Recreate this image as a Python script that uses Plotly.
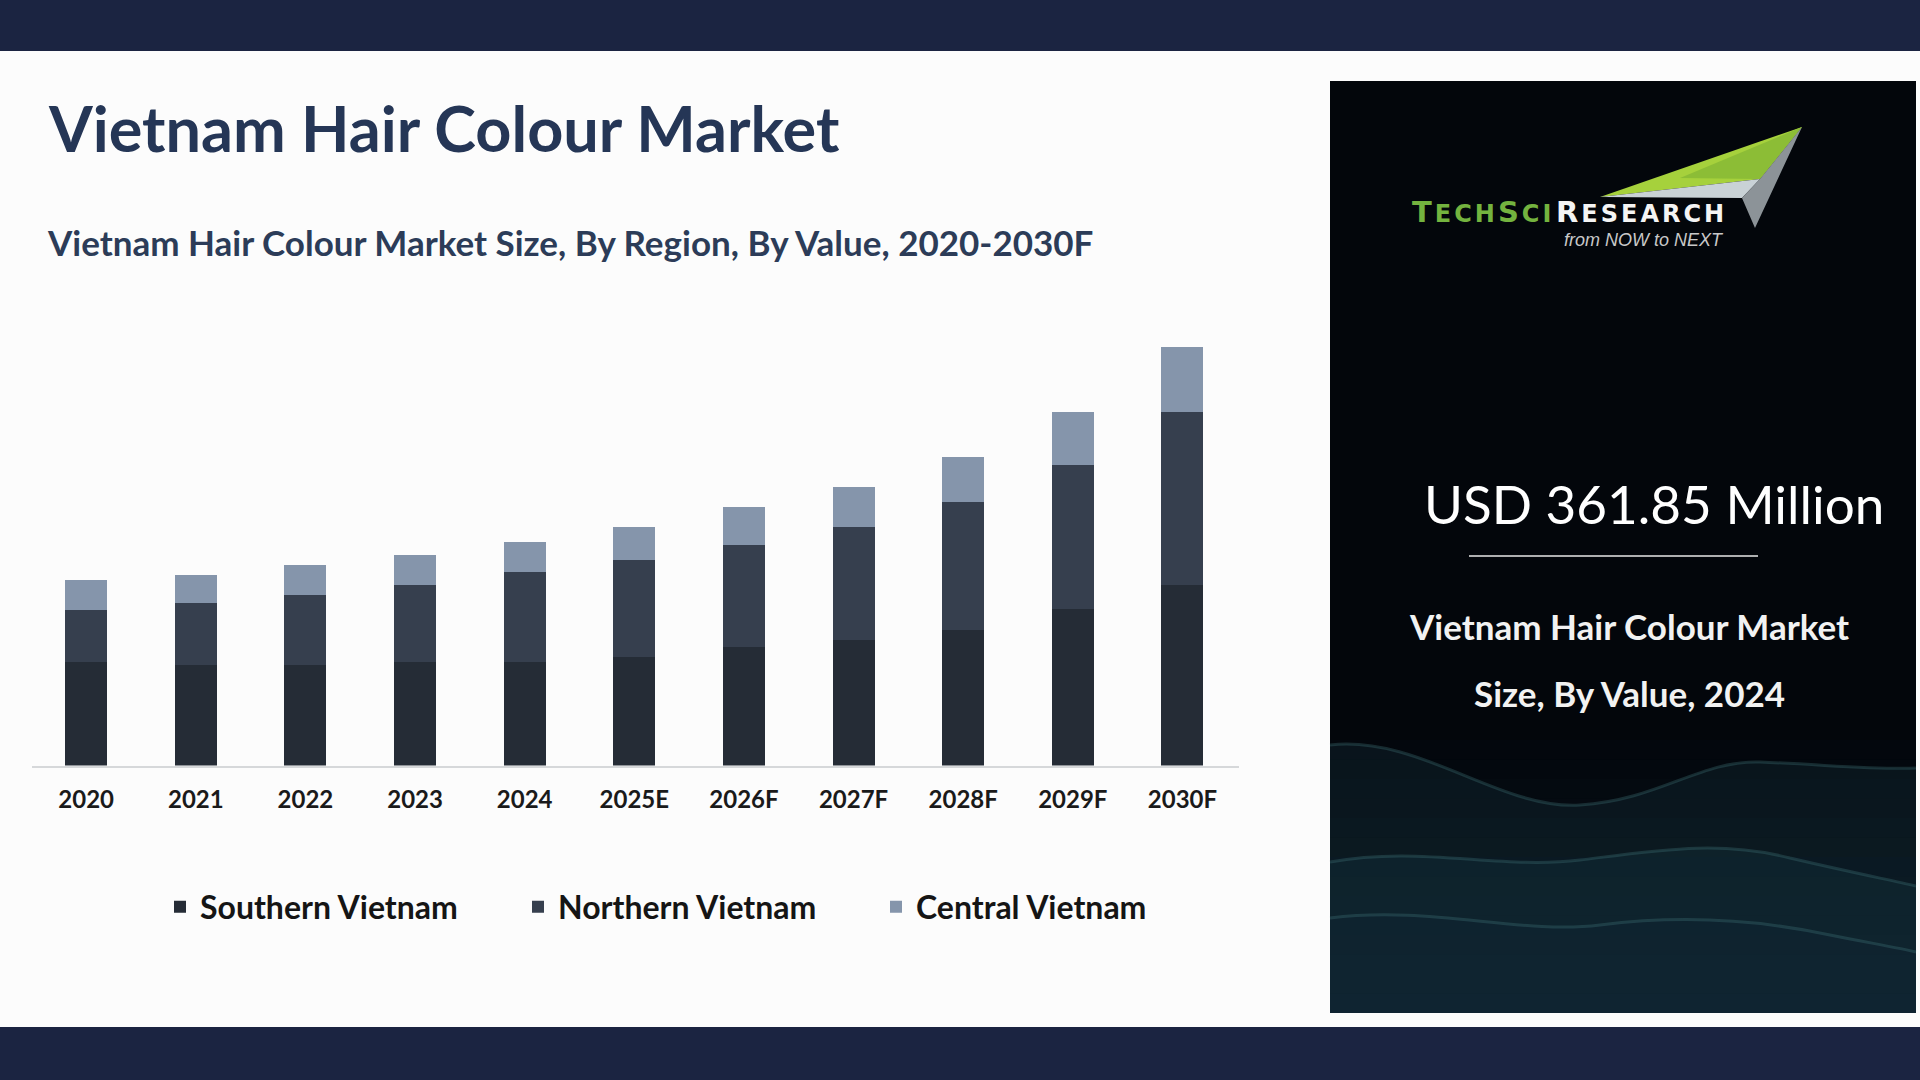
import plotly.graph_objects as go

# ---------------- data ----------------
years = ["2020", "2021", "2022", "2023", "2024", "2025E", "2026F", "2027F", "2028F", "2029F", "2030F"]
southern = [167.5, 163.1, 163.1, 167.5, 167.5, 175.6, 191.8, 203.6, 219.8, 253.3, 292.7]
northern = [84.7, 100.9, 113.4, 125.2, 145.8, 157.6, 165.7, 182.5, 206.8, 234.2, 279.7]
central = [48.6, 44.9, 48.6, 48.6, 48.6, 53.0, 61.1, 64.8, 73.4, 84.9, 105.8]
series_names = ["Southern Vietnam", "Northern Vietnam", "Central Vietnam"]
series_colors = ["#252c36", "#363f4e", "#8595ab"]

title_text = "Vietnam Hair Colour Market"
subtitle_text = "Vietnam Hair Colour Market Size, By Region, By Value, 2020-2030F"
kpi_text = "USD 361.85 Million"
kpi_label_1 = "Vietnam Hair Colour Market"
kpi_label_2 = "Size, By Value, 2024"

# ---------------- helpers (pixel -> paper) ----------------
W, H = 1920, 1080


def px(x):
    return x / W


def py(y):
    return 1 - y / H


def poly(points):
    return "M " + " L ".join(f"{px(x):.5f},{py(y):.5f}" for x, y in points) + " Z"


def curve(start, segs, close_bottom=None):
    s = f"M {px(start[0]):.5f},{py(start[1]):.5f}"
    for (c1, c2, e) in segs:
        s += (f" C {px(c1[0]):.5f},{py(c1[1]):.5f} {px(c2[0]):.5f},{py(c2[1]):.5f}"
              f" {px(e[0]):.5f},{py(e[1]):.5f}")
    if close_bottom is not None:
        for p in close_bottom:
            s += f" L {px(p[0]):.5f},{py(p[1]):.5f}"
        s += " Z"
    return s


fig = go.Figure()
for name, vals, col in zip(series_names, [southern, northern, central], series_colors):
    fig.add_trace(go.Bar(x=years, y=vals, name=name, marker_color=col,
                         marker_line_width=0, hoverinfo="x+y+name"))

shapes = []
# top & bottom bands
shapes.append(dict(type="rect", xref="paper", yref="paper", x0=0, x1=1, y0=py(51), y1=1,
                   fillcolor="#1b2441", line_width=0, layer="below"))
shapes.append(dict(type="rect", xref="paper", yref="paper", x0=0, x1=1, y0=0, y1=py(1027),
                   fillcolor="#1b2441", line_width=0, layer="below"))
# right panel
P_L, P_R, P_T, P_B = 1330, 1916, 81, 1013
shapes.append(dict(type="rect", xref="paper", yref="paper", x0=px(P_L), x1=px(P_R),
                   y0=py(P_B), y1=py(P_T), fillcolor="#03060b", line_width=0, layer="below"))
# subtle gradient towards the bottom of the panel
n_strips = 14
g_top = 740
for i in range(n_strips):
    y0 = g_top + i * (P_B - g_top) / n_strips
    y1 = g_top + (i + 1) * (P_B - g_top) / n_strips
    shapes.append(dict(type="rect", xref="paper", yref="paper", x0=px(P_L), x1=px(P_R),
                       y0=py(y1), y1=py(y0), fillcolor="#0c1d2b",
                       opacity=0.06 + 0.05 * i, line_width=0, layer="below"))
# waves
bottom = [(P_R, P_B), (P_L, P_B)]
wave_defs = [
    ((P_L, 745), [((1420, 735), (1500, 810), (1580, 805)),
                  ((1660, 800), (1700, 760), (1760, 762)),
                  ((1830, 765), (1880, 770), (P_R, 768))], "rgba(22,52,62,0.30)"),
    ((P_L, 862), [((1420, 845), (1500, 870), (1580, 860)),
                  ((1660, 850), (1720, 840), (1790, 858)),
                  ((1850, 872), (1890, 880), (P_R, 886))], "rgba(24,56,66,0.30)"),
    ((P_L, 918), [((1430, 905), (1520, 935), (1600, 925)),
                  ((1680, 915), (1760, 920), (1830, 935)),
                  ((1870, 943), (1900, 948), (P_R, 952))], "rgba(14,34,50,0.40)"),
]
for start, segs, col in wave_defs:
    shapes.append(dict(type="path", xref="paper", yref="paper",
                       path=curve(start, segs, bottom), fillcolor=col, line_width=0, layer="below"))
    shapes.append(dict(type="path", xref="paper", yref="paper",
                       path=curve(start, segs), line=dict(color="rgba(70,125,130,0.30)", width=3),
                       layer="below"))
# white separator line in panel
shapes.append(dict(type="line", xref="paper", yref="paper", x0=px(1469), x1=px(1758),
                   y0=py(556), y1=py(556), line=dict(color="#e8e8e8", width=1.5)))
# logo arrow
shapes.append(dict(type="path", xref="paper", yref="paper",
                   path=poly([(1600, 197), (1802, 127), (1760, 179)]),
                   fillcolor="#a6d13c", line_width=0))
shapes.append(dict(type="path", xref="paper", yref="paper",
                   path=poly([(1680, 178), (1802, 127), (1760, 179)]),
                   fillcolor="#8cbd36", line_width=0))
shapes.append(dict(type="path", xref="paper", yref="paper",
                   path=poly([(1600, 197), (1760, 179), (1742, 198)]),
                   fillcolor="#c9d2d6", line_width=0))
shapes.append(dict(type="path", xref="paper", yref="paper",
                   path=poly([(1760, 179), (1802, 127), (1755, 228), (1742, 198)]),
                   fillcolor="#8c9398", line_width=0))

annotations = []
annotations.append(dict(text=f"<b>{title_text}</b>", xref="paper", yref="paper",
                        x=px(46), y=py(128), xanchor="left", yanchor="middle", showarrow=False,
                        font=dict(family="Lato", size=63, color="#253656")))
annotations.append(dict(text=f"<b>{subtitle_text}</b>", xref="paper", yref="paper",
                        x=px(45), y=py(242), xanchor="left", yanchor="middle", showarrow=False,
                        font=dict(family="Lato", size=35, color="#2c3c58")))
annotations.append(dict(text=kpi_text, xref="paper", yref="paper",
                        x=px(1654), y=py(503), xanchor="center", yanchor="middle", showarrow=False,
                        font=dict(family="Lato", size=53, color="#ffffff")))
annotations.append(dict(text=f"<b>{kpi_label_1}</b>", xref="paper", yref="paper",
                        x=px(1629), y=py(626), xanchor="center", yanchor="middle", showarrow=False,
                        font=dict(family="Lato", size=35, color="#f2f2f2")))
annotations.append(dict(text=f"<b>{kpi_label_2}</b>", xref="paper", yref="paper",
                        x=px(1629), y=py(693), xanchor="center", yanchor="middle", showarrow=False,
                        font=dict(family="Lato", size=35, color="#f2f2f2")))
# logo text
ls = "letter-spacing:3px"
annotations.append(dict(
    text=(f"<b><span style='{ls}'>T<span style='font-size:24px'>ECH</span>"
          f"S<span style='font-size:24px'>CI</span></span></b>"),
    xref="paper", yref="paper", x=px(1410), y=py(212), xanchor="left",
    yanchor="middle", showarrow=False,
    font=dict(family="DejaVu Sans", size=29, color="#74b33f")))
annotations.append(dict(
    text=f"<b><span style='{ls}'>R<span style='font-size:24px'>ESEARCH</span></span></b>",
    xref="paper", yref="paper", x=px(1554), y=py(212), xanchor="left",
    yanchor="middle", showarrow=False,
    font=dict(family="DejaVu Sans", size=29, color="#f4f4f4")))
annotations.append(dict(text="<i>from NOW to NEXT</i>", xref="paper", yref="paper",
                        x=px(1726), y=py(240), xanchor="right", yanchor="middle", showarrow=False,
                        font=dict(family="Liberation Sans", size=18, color="#c8c8c8")))

fig.update_layout(
    width=W, height=H, autosize=False,
    margin=dict(l=0, r=0, t=0, b=0),
    paper_bgcolor="#fcfcfc", plot_bgcolor="rgba(0,0,0,0)",
    barmode="stack", bargap=0.617,
    showlegend=True,
    legend=dict(orientation="h", x=px(160), y=py(907), xanchor="left", yanchor="middle",
                traceorder="normal", entrywidthmode="pixels", entrywidth=313,
                font=dict(family="Lato", size=32, color="#151515"),
                bgcolor="rgba(0,0,0,0)"),
    xaxis=dict(type="category", domain=[px(31.7), px(1239)], range=[-0.497, 10.516],
               showline=True, linecolor="#d6d8da", linewidth=2, showgrid=False, zeroline=False,
               ticks="outside", ticklen=12, tickcolor="rgba(0,0,0,0)",
               tickfont=dict(family="Lato", size=24, color="#1a1a1a"), fixedrange=True),
    yaxis=dict(domain=[py(765.5), py(270)], range=[0, 802.6], visible=False, fixedrange=True),
    shapes=shapes, annotations=annotations,
    font=dict(family="Lato"),
)
fig.update_xaxes(tickprefix="<b>", ticksuffix="</b>")
for tr in fig.data:
    tr.name = f"<b>{tr.name}</b>"

fig.write_html("out.html")
